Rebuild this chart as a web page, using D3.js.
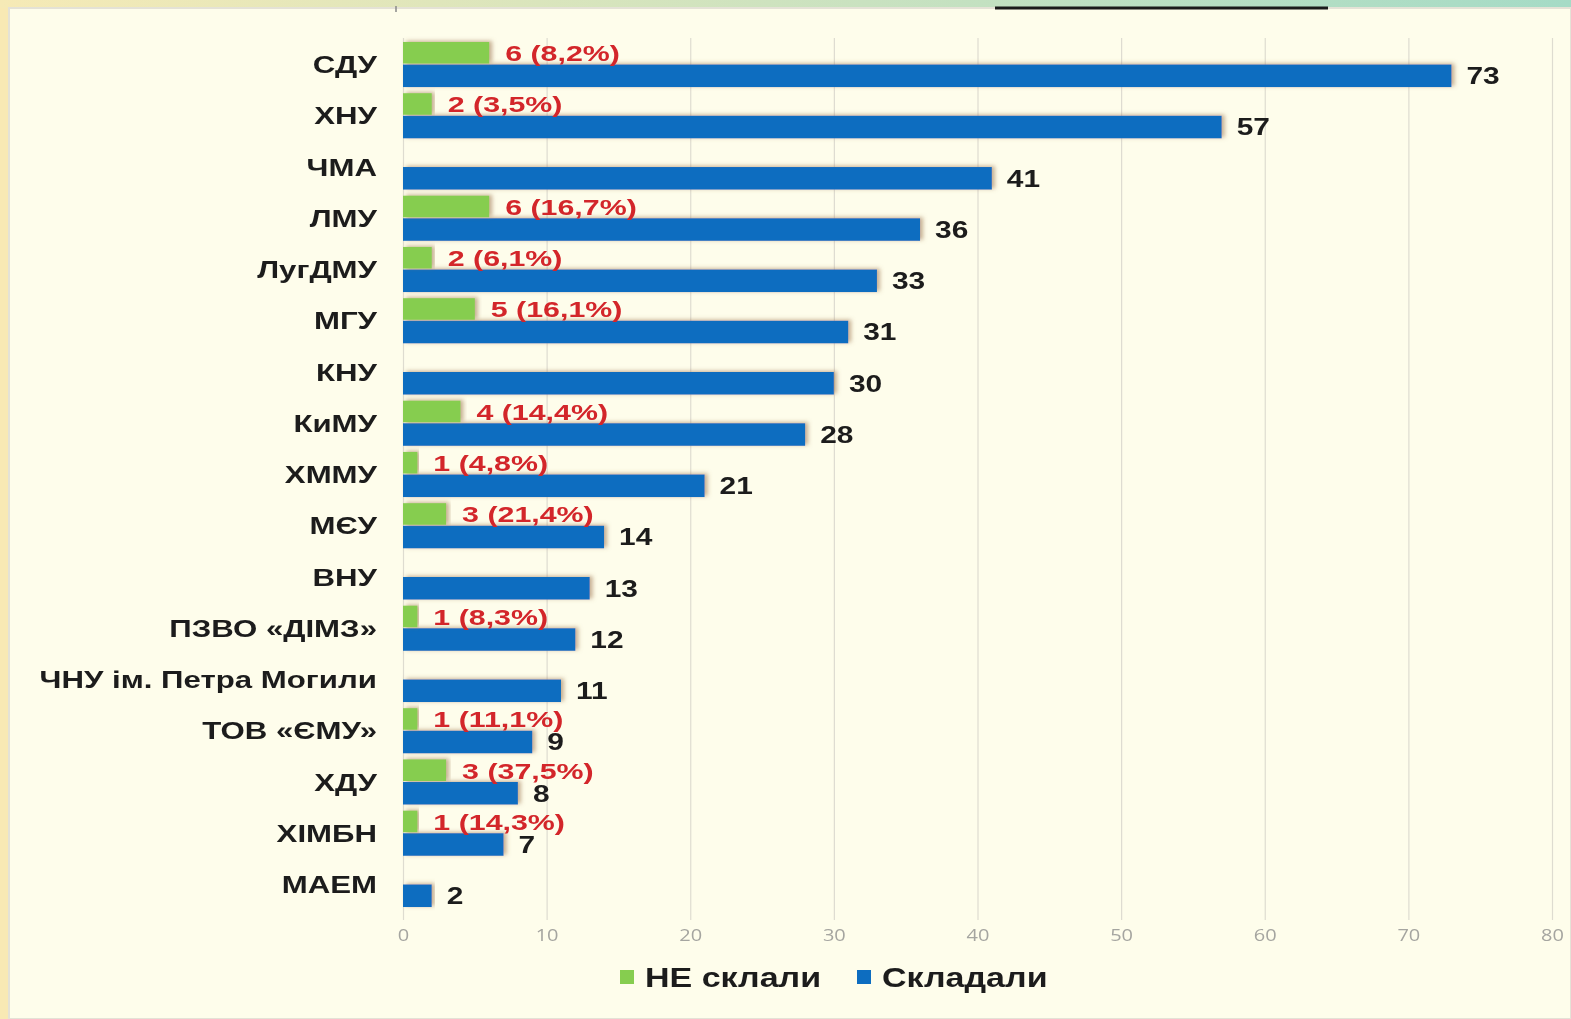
<!DOCTYPE html>
<html lang="uk">
<head>
    <meta charset="UTF-8">
    <title>Складали / НЕ склали</title>
    <script src="https://d3js.org/d3.v7.min.js"></script>
    <style>
        body {
            margin: 0;
            background-color: #f8e9b4;
            overflow: hidden;
        }
        svg {
            display: block;
        }
        .cat-label {
            font-family: 'Liberation Sans', Arial, sans-serif;
            font-weight: bold;
            font-size: 24px;
            fill: #1c1c1c;
            text-anchor: end;
        }
        .value {
            font-family: 'Liberation Sans', Arial, sans-serif;
            font-weight: bold;
            font-size: 23px;
            fill: #1c1c1c;
        }
        .fail-label {
            font-family: 'Liberation Sans', Arial, sans-serif;
            font-weight: bold;
            font-size: 22px;
            fill: #d3262b;
        }
        .tick text {
            font-family: 'Open Sans', sans-serif;
            font-size: 16px;
            fill: #a5a5a0;
        }
        .legend text {
            font-family: 'Liberation Sans', Arial, sans-serif;
            font-weight: bold;
            font-size: 27px;
            fill: #1c1c1c;
        }
    </style>
</head>
<body>
    <svg width="1571" height="1019"></svg>

    <script>
        // data
        const categories = ["СДУ", "ХНУ", "ЧМА", "ЛМУ", "ЛугДМУ", "МГУ", "КНУ", "КиМУ", "ХММУ", "МЄУ",
            "ВНУ", "ПЗВО «ДІМЗ»", "ЧНУ ім. Петра Могили", "ТОВ «ЄМУ»", "ХДУ", "ХІМБН", "МАЕМ"];
        const passed = [73, 57, 41, 36, 33, 31, 30, 28, 21, 14, 13, 12, 11, 9, 8, 7, 2];
        const failed = [6, 2, null, 6, 2, 5, null, 4, 1, 3, null, 1, null, 1, 3, 1, null];
        const failedPct = ["8,2%", "3,5%", null, "16,7%", "6,1%", "16,1%", null, "14,4%", "4,8%", "21,4%",
            null, "8,3%", null, "11,1%", "37,5%", "14,3%", null];
        const xTicks = [0, 10, 20, 30, 40, 50, 60, 70, 80];
        const seriesNames = ["НЕ склали", "Складали"];

        const blue = "#0d6dc0";
        const green = "#86cd4f";

        const svg = d3.select("svg");
        const W = 1571, H = 1019;

        // the source picture is stretched sideways, so text is widened too
        const stretch = 1.3;

        // background: page strip + panel
        const defs = svg.append("defs");
        const topGrad = defs.append("linearGradient").attr("id", "topGrad");
        topGrad.append("stop").attr("offset", "0%").attr("stop-color", "#f6eab6");
        topGrad.append("stop").attr("offset", "55%").attr("stop-color", "#c9e2c0");
        topGrad.append("stop").attr("offset", "100%").attr("stop-color", "#a5dbc6");

        const shadow = defs.append("filter").attr("id", "shadow")
            .attr("x", "-5%").attr("y", "-30%").attr("width", "115%").attr("height", "160%");
        shadow.append("feDropShadow")
            .attr("dx", 3).attr("dy", -1).attr("stdDeviation", 2.2)
            .attr("flood-color", "#a07a55").attr("flood-opacity", 0.6);

        const soft = defs.append("filter").attr("id", "soft");
        soft.append("feGaussianBlur").attr("stdDeviation", 0.5);

        svg.append("rect").attr("width", W).attr("height", H).attr("fill", "#f8e9b4");
        svg.append("rect").attr("width", W).attr("height", 8).attr("fill", "url(#topGrad)");
        svg.append("rect").attr("x", 9).attr("y", 8).attr("width", W - 9).attr("height", H - 8)
            .attr("fill", "#fefdeb").attr("stroke", "#e4e2d6").attr("stroke-width", 2);
        svg.append("line").attr("x1", 995).attr("x2", 1328).attr("y1", 8).attr("y2", 8)
            .attr("stroke", "#1a1a1a").attr("stroke-width", 3);
        svg.append("line").attr("x1", 396).attr("x2", 396).attr("y1", 6).attr("y2", 12)
            .attr("stroke", "#888").attr("stroke-width", 1.5);

        // scales
        const x = d3.scaleLinear().domain([0, 80]).range([403, 1552]);
        const y = d3.scaleBand().domain(categories).range([38.9, 910.1])
            .paddingInner(0.12).paddingOuter(0.06);
        const ySub = d3.scaleBand().domain(seriesNames).range([0, y.bandwidth()]);

        const rows = categories.map((c, i) => ({
            name: c, pass: passed[i], fail: failed[i], pct: failedPct[i]
        }));

        // grid + axis
        const axis = svg.append("g")
            .attr("transform", "translate(0,920)")
            .call(d3.axisBottom(x).tickValues(xTicks).tickSize(-882).tickPadding(8).tickFormat(d3.format("d")));
        axis.select(".domain").remove();
        axis.selectAll(".tick line").attr("stroke", "#dedcd0").attr("stroke-width", 1.2);
        axis.selectAll(".tick text")
            .attr("y", 0).attr("dy", 0)
            .attr("transform", `translate(0,21) scale(1.25,1)`)
            .attr("filter", "url(#soft)");

        // bars
        const g = svg.append("g");
        const groups = g.selectAll("g.row").data(rows).join("g")
            .attr("class", "row")
            .attr("transform", d => `translate(0,${y(d.name)})`);

        groups.append("rect")
            .attr("x", x(0))
            .attr("y", ySub("Складали"))
            .attr("width", d => x(d.pass) - x(0))
            .attr("height", ySub.bandwidth())
            .attr("fill", blue)
            .attr("filter", "url(#shadow)");

        groups.filter(d => d.fail != null).append("rect")
            .attr("x", x(0))
            .attr("y", ySub("НЕ склали"))
            .attr("width", d => x(d.fail) - x(0))
            .attr("height", ySub.bandwidth() - 1)
            .attr("fill", green)
            .attr("filter", "url(#shadow)");

        groups.append("text")
            .attr("class", "value")
            .attr("transform", d => `translate(${x(d.pass) + 15},${ySub("Складали") + ySub.bandwidth() / 2}) scale(${stretch},1)`)
            .attr("dy", "0.36em")
            .attr("filter", "url(#soft)")
            .text(d => d.pass);

        groups.filter(d => d.fail != null).append("text")
            .attr("class", "fail-label")
            .attr("transform", d => `translate(${x(d.fail) + 16},${ySub("НЕ склали") + ySub.bandwidth() / 2}) scale(1.38,1)`)
            .attr("dy", "0.36em")
            .attr("filter", "url(#soft)")
            .text(d => `${d.fail} (${d.pct})`);

        // category labels
        svg.append("g").selectAll("text").data(rows).join("text")
            .attr("class", "cat-label")
            .attr("transform", d => `translate(377,${y(d.name) + y.bandwidth() / 2}) scale(${stretch},1)`)
            .attr("dy", "0.36em")
            .attr("filter", "url(#soft)")
            .text(d => d.name);

        // legend
        const legend = svg.append("g").attr("class", "legend").attr("transform", "translate(620,977)");
        const legendItems = [
            {name: seriesNames[0], color: green, x: 0},
            {name: seriesNames[1], color: blue, x: 237}
        ];
        const li = legend.selectAll("g").data(legendItems).join("g")
            .attr("transform", d => `translate(${d.x},0)`);
        li.append("rect").attr("x", 0).attr("y", -7).attr("width", 14).attr("height", 14)
            .attr("fill", d => d.color);
        li.append("text")
            .attr("transform", "translate(25,0) scale(1.26,1)")
            .attr("dy", "0.36em")
            .attr("filter", "url(#soft)")
            .text(d => d.name);
    </script>
</body>
</html>
